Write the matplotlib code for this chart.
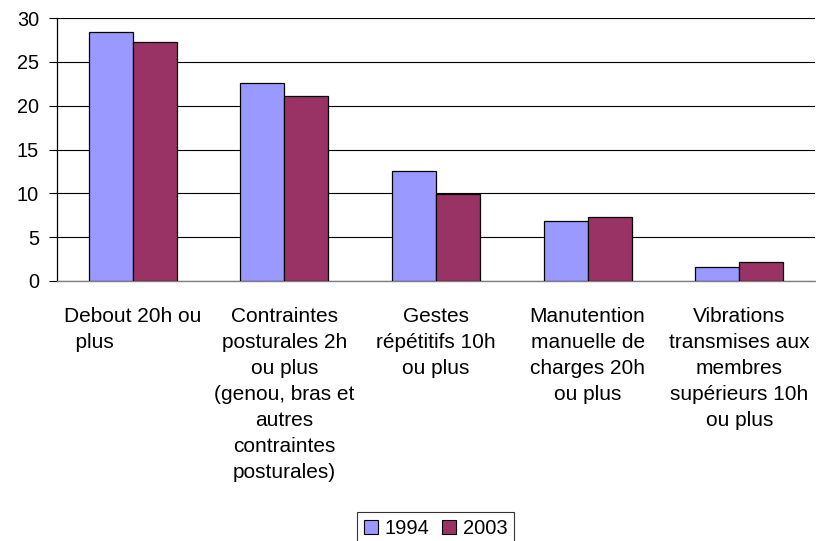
import matplotlib
matplotlib.use("Agg")
import matplotlib.pyplot as plt
import numpy as np

categories = [
    "Debout 20h ou\n  plus",
    "Contraintes\nposturales 2h\nou plus\n(genou, bras et\nautres\ncontraintes\nposturales)",
    "Gestes\nrépétitifs 10h\nou plus",
    "Manutention\nmanuelle de\ncharges 20h\nou plus",
    "Vibrations\ntransmises aux\nmembres\nsupérieurs 10h\nou plus",
]
series_names = ["1994", "2003"]
values_1994 = [28.4, 22.6, 12.5, 6.9, 1.6]
values_2003 = [27.3, 21.1, 9.9, 7.3, 2.2]
yticks = [0, 5, 10, 15, 20, 25, 30]

plt.rcParams['font.family'] = ['Liberation Sans', 'DejaVu Sans']

fig = plt.figure(figsize=(8.16, 5.41), dpi=100)
ax = fig.add_axes([57/816, 1-281/541, 758/816, 263/541])

x = np.arange(len(categories))
w = 0.29
ax.bar(x - w/2, values_1994, w, color="#9999FF", edgecolor="black", linewidth=0.9, label=series_names[0], zorder=3)
ax.bar(x + w/2, values_2003, w, color="#993366", edgecolor="black", linewidth=0.9, label=series_names[1], zorder=3)

ax.set_xlim(-0.5, len(categories) - 0.5)
ax.set_ylim(0, 30)
ax.set_yticks(yticks)
ax.set_yticklabels([str(t) for t in yticks], fontsize=14.3)
ax.yaxis.grid(True, color="black", linewidth=0.8, zorder=0)
ax.set_axisbelow(True)
for s in ["top", "right"]:
    ax.spines[s].set_visible(False)
ax.spines["left"].set_color("black")
ax.spines["left"].set_linewidth(0.9)
ax.spines["bottom"].set_color("#808080")
ax.spines["bottom"].set_linewidth(1.0)
ax.tick_params(axis="y", direction="out", length=5.5, width=0.8, pad=7.5)
ax.tick_params(axis="x", length=0)
ax.set_xticks(x)
ax.set_xticklabels([])

for i, lab in enumerate(categories):
    ma = "left" if i == 0 else "center"
    ax.text(i, -0.098, lab, transform=ax.get_xaxis_transform(), ha="center", va="top",
            fontsize=15, multialignment=ma, linespacing=1.47)

leg = fig.legend(loc="upper center", bbox_to_anchor=(435.5/816, 1-512/541), ncol=2, frameon=True,
                 fontsize=14.5, handlelength=0.7, handleheight=0.7, handletextpad=0.35,
                 columnspacing=0.6, borderpad=0.35, fancybox=False, borderaxespad=0.0)
leg.get_frame().set_edgecolor("black")
leg.get_frame().set_linewidth(0.8)
for h in leg.legend_handles:
    h.set_edgecolor("black")
    h.set_linewidth(0.8)

fig.savefig("out.png", dpi=100)
